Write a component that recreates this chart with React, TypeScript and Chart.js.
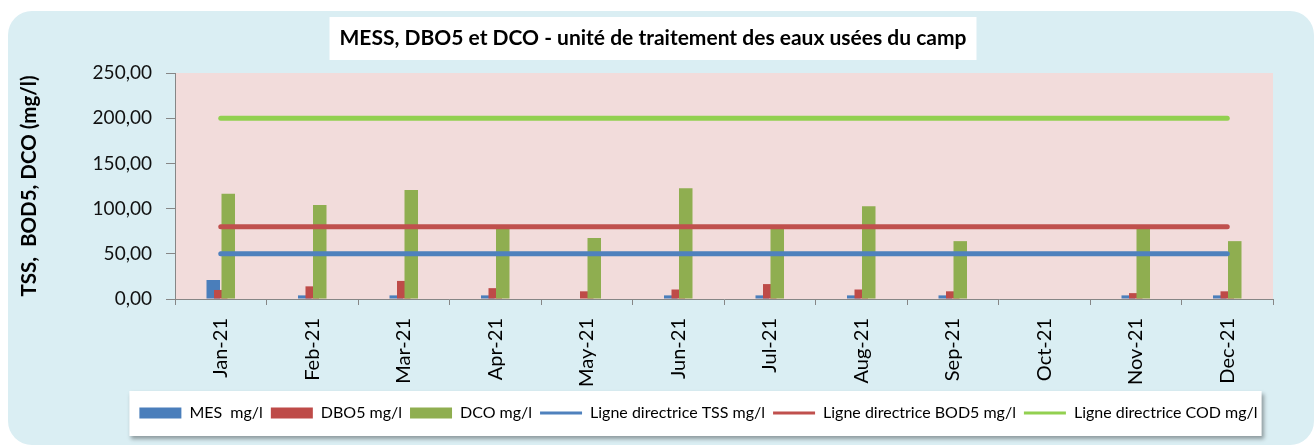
import { useEffect, useRef } from 'react';
import { Chart, registerables } from 'chart.js';

Chart.register(...registerables);

const months = ['Jan-21', 'Feb-21', 'Mar-21', 'Apr-21', 'May-21', 'Jun-21', 'Jul-21', 'Aug-21', 'Sep-21', 'Oct-21', 'Nov-21', 'Dec-21'];
const mes = [21, 4, 4, 4, null, 4, 4, 4, 4, null, 4, 4];
const dbo5 = [10, 14, 20, 12, 8.5, 10.5, 16.5, 10.5, 8.5, null, 6.5, 8.5];
const dco = [116.5, 104, 120.5, 79, 67.5, 122.5, 79, 102.5, 64, null, 79, 64];
const tssGuide = [50, 50, 50, 50, 50, 50, 50, 50, 50, 50, 50, 50];
const bod5Guide = [80, 80, 80, 80, 80, 80, 80, 80, 80, 80, 80, 80];
const codGuide = [200, 200, 200, 200, 200, 200, 200, 200, 200, 200, 200, 200];

const seriesNames = ['MES  mg/l', 'DBO5 mg/l', 'DCO mg/l', 'Ligne directrice TSS mg/l', 'Ligne directrice BOD5 mg/l', 'Ligne directrice COD mg/l'];
const titleText = 'MESS, DBO5 et DCO - unité de traitement des eaux usées du camp';
const yTitle = 'TSS,  BOD5, DCO (mg/l)';

const FAMILY = 'Lato, "Open Sans", sans-serif';
const TITLE_SIZE = 21;

const decorPlugin = {
  id: 'decor',
  afterLayout(chart: any) {
    const lg = chart.legend;
    if (lg) { lg.left += 58; lg.right += 58; }
    const tb = chart.titleBlock;
    if (tb) { tb.left += 12.5; tb.right += 12.5; }
  },
  beforeDraw(chart: any) {
    const { ctx, chartArea: a } = chart;
    ctx.save();
    ctx.fillStyle = '#F2DCDB';
    ctx.fillRect(a.left, a.top, a.right - a.left, a.bottom - a.top);
    // title box
    const tb = chart.titleBlock;
    ctx.font = `bold ${TITLE_SIZE}px ${FAMILY}`;
    const tw = ctx.measureText(titleText).width;
    const cx = (tb.left + tb.right) / 2;
    ctx.fillStyle = '#FFFFFF';
    ctx.fillRect(cx - tw / 2 - 10, tb.top + 6, tw + 20, 43);
    // legend box
    const hb = chart.legend.legendHitBoxes || [];
    if (hb.length) {
      let l = Infinity, r = -Infinity;
      for (const h of hb) { l = Math.min(l, h.left); r = Math.max(r, h.left + h.width); }
      const cy = hb[0].top + hb[0].height / 2;
      ctx.shadowColor = 'rgba(0,0,0,0.35)';
      ctx.shadowBlur = 4;
      ctx.shadowOffsetX = 2;
      ctx.shadowOffsetY = 3;
      ctx.fillRect(l - 10, cy - 22, r - l + 14, 45);
    }
    ctx.restore();
  },
  beforeDatasetsDraw(chart: any) {
    const metas = chart.getSortedVisibleDatasetMetas();
    for (const m of metas) chart._drawDataset(m);
    return false;
  },
};

export default function App() {
  const ref = useRef<HTMLCanvasElement>(null);
  useEffect(() => {
    document.body.style.overflow = 'hidden';
    const barOpts = { categoryPercentage: 0.246, barPercentage: 1.8, borderWidth: 0 };
    const lineOpts = { type: 'line' as const, borderWidth: 5, pointRadius: 0, borderCapStyle: 'round' as const, fill: false };
    const chart = new Chart(ref.current!, {
      type: 'bar',
      data: {
        labels: months,
        datasets: [
          { label: seriesNames[0], data: mes, backgroundColor: '#4A7EBB', ...barOpts },
          { label: seriesNames[1], data: dbo5, backgroundColor: '#BE4B48', ...barOpts },
          { label: seriesNames[2], data: dco, backgroundColor: '#8FAE50', ...barOpts },
          { label: seriesNames[3], data: tssGuide, borderColor: '#4F81BD', backgroundColor: '#4F81BD', ...lineOpts },
          { label: seriesNames[4], data: bod5Guide, borderColor: '#C0504D', backgroundColor: '#C0504D', ...lineOpts },
          { label: seriesNames[5], data: codGuide, borderColor: '#92D050', backgroundColor: '#92D050', ...lineOpts },
        ] as any,
      },
      options: {
        responsive: false,
        animation: false,
        layout: { padding: { left: 0, right: 41, top: 0, bottom: 14 } },
        plugins: {
          tooltip: { enabled: false },
          title: {
            display: true,
            text: titleText,
            color: '#000',
            font: { family: FAMILY, size: TITLE_SIZE, weight: 'bold', lineHeight: 1.2 },
            padding: { top: 15, bottom: 21.8 },
          },
          legend: {
            position: 'bottom',
            labels: {
              usePointStyle: true,
              pointStyleWidth: 42,
              boxHeight: 11,
              padding: 8,
              color: '#000',
              font: { family: FAMILY, size: 16 },
              generateLabels(chart: any) {
                const items = Chart.defaults.plugins.legend.labels.generateLabels(chart);
                return items.map((it: any) => {
                  const ds: any = chart.data.datasets[it.datasetIndex];
                  if (ds.type === 'line') {
                    return { ...it, pointStyle: 'line', lineWidth: 3, strokeStyle: ds.borderColor, lineCap: 'butt' };
                  }
                  return { ...it, pointStyle: 'rect', lineWidth: 0, fillStyle: ds.backgroundColor };
                });
              },
            },
          },
        },
        scales: {
          x: {
            afterFit(scale: any) { scale.height = 98; },
            grid: { drawOnChartArea: false, drawTicks: true, tickLength: 6, color: '#868686', offset: true },
            border: { display: true, color: '#868686' },
            ticks: { autoSkip: false, minRotation: 90, maxRotation: 90, padding: 13, color: '#000', font: { family: FAMILY, size: 20 } },
          },
          y: {
            min: 0,
            max: 250,
            afterFit(scale: any) { scale.width = 167; },
            grid: { drawOnChartArea: false, drawTicks: true, tickLength: 9, color: '#868686' },
            border: { display: true, color: '#868686' },
            ticks: {
              stepSize: 50,
              padding: 14,
              color: '#111',
              font: { family: FAMILY, size: 19 },
              callback: (v: any) => Number(v).toFixed(2).replace('.', ','),
            },
            title: {
              display: true,
              text: yTitle,
              color: '#000',
              font: { family: FAMILY, size: 20.5, weight: 'bold' },
              padding: { top: 9, bottom: 0 },
            },
          },
        },
      },
      plugins: [decorPlugin],
    });
    return () => chart.destroy();
  }, []);
  return (
    <div style={{ position: 'absolute', left: 8, top: 11, width: 1306, height: 434, background: '#DAEEF3', borderRadius: 24, overflow: 'hidden' }}>
      <canvas ref={ref} width={1306} height={434} style={{ display: 'block' }} />
    </div>
  );
}
